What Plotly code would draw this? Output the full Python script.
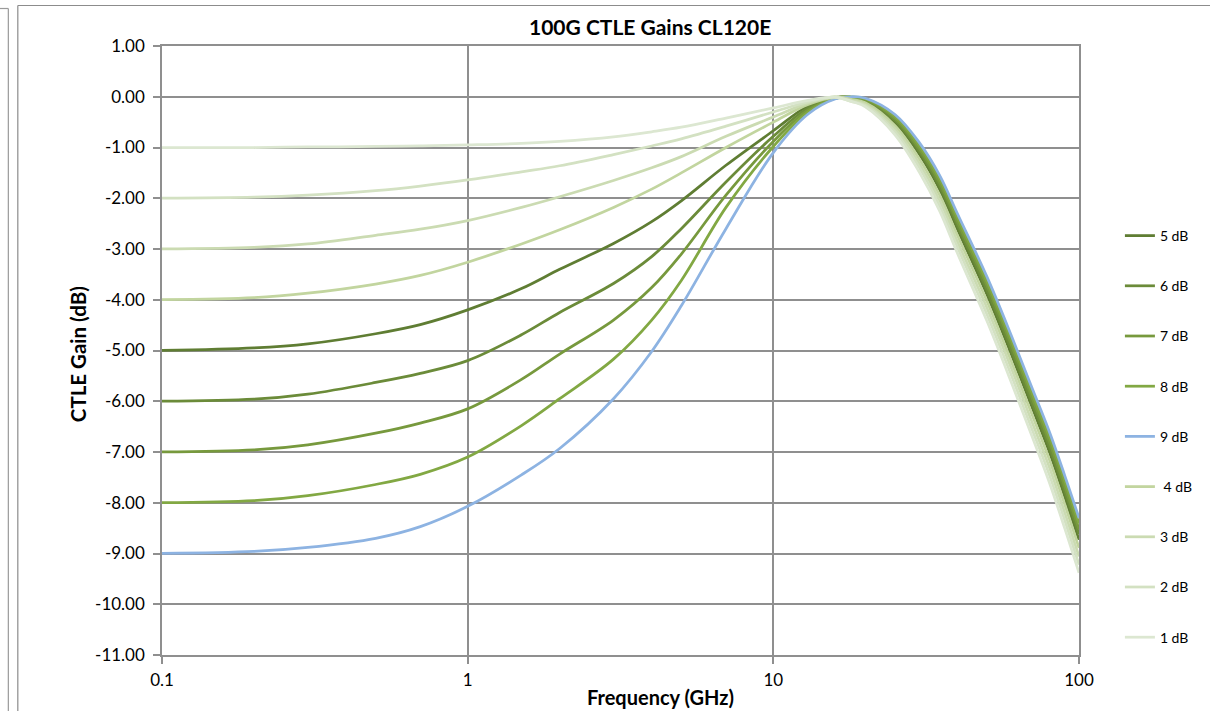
import plotly.graph_objects as go

# Frequency grid (GHz) at which each CTLE gain curve is sampled
FREQ_GHZ = [0.1, 0.2, 0.3, 0.5, 0.7, 1, 1.5, 2, 3, 4, 5, 7, 10, 13, 16, 18,
            20, 25, 30, 35, 40, 50, 60, 70, 80, 90, 100]

# CTLE gain (dB) per DC-gain setting
GAIN_5DB = [-5.00, -4.95, -4.87, -4.67, -4.49, -4.20, -3.78, -3.40, -2.89, -2.46, -2.05, -1.35, -0.67, -0.18,
            -0.01, -0.02, -0.09, -0.51, -1.13, -1.83, -2.61, -3.90, -5.07, -6.10, -7.00, -7.90, -8.73]
GAIN_6DB = [-6.00, -5.96, -5.86, -5.63, -5.45, -5.20, -4.69, -4.25, -3.68, -3.15, -2.60, -1.68, -0.78, -0.22,
            -0.02, -0.01, -0.07, -0.47, -1.07, -1.76, -2.53, -3.81, -4.98, -6.01, -6.90, -7.79, -8.62]
GAIN_7DB = [-7.00, -6.96, -6.86, -6.63, -6.43, -6.15, -5.57, -5.07, -4.40, -3.76, -3.10, -1.94, -0.88, -0.26,
            -0.03, -0.01, -0.06, -0.43, -1.02, -1.69, -2.46, -3.72, -4.88, -5.91, -6.80, -7.69, -8.52]
GAIN_8DB = [-8.00, -7.96, -7.86, -7.64, -7.44, -7.10, -6.48, -5.95, -5.17, -4.40, -3.62, -2.18, -0.98, -0.30,
            -0.03, 0.00, -0.04, -0.39, -0.96, -1.62, -2.38, -3.64, -4.79, -5.82, -6.70, -7.58, -8.41]
GAIN_9DB = [-9.00, -8.96, -8.88, -8.70, -8.47, -8.07, -7.45, -6.93, -5.95, -5.02, -4.12, -2.60, -1.10, -0.34,
            -0.04, 0.00, -0.03, -0.35, -0.90, -1.55, -2.30, -3.55, -4.70, -5.72, -6.60, -7.48, -8.30]
GAIN_4DB = [-4.00, -3.96, -3.87, -3.69, -3.52, -3.26, -2.90, -2.62, -2.18, -1.82, -1.50, -1.00, -0.50, -0.15,
            -0.01, -0.05, -0.12, -0.57, -1.22, -1.94, -2.73, -4.03, -5.21, -6.24, -7.15, -8.05, -8.89]
GAIN_3DB = [-3.00, -2.97, -2.90, -2.73, -2.61, -2.44, -2.18, -1.97, -1.65, -1.40, -1.18, -0.78, -0.40, -0.12,
            0.00, -0.07, -0.15, -0.63, -1.31, -2.04, -2.85, -4.16, -5.34, -6.39, -7.30, -8.21, -9.06]
GAIN_2DB = [-2.00, -1.98, -1.94, -1.85, -1.76, -1.64, -1.48, -1.36, -1.14, -0.97, -0.83, -0.58, -0.30, -0.10,
            -0.01, -0.09, -0.17, -0.69, -1.39, -2.15, -2.96, -4.29, -5.48, -6.53, -7.45, -8.36, -9.22]
GAIN_1DB = [-1.00, -1.00, -0.99, -0.98, -0.97, -0.95, -0.92, -0.88, -0.79, -0.69, -0.60, -0.42, -0.22, -0.07,
            -0.01, -0.09, -0.20, -0.75, -1.48, -2.25, -3.08, -4.42, -5.62, -6.67, -7.60, -8.52, -9.38]

SERIES_NAMES = ["5 dB", "6 dB", "7 dB", "8 dB", "9 dB", " 4 dB", "3 dB", "2 dB", "1 dB"]
SERIES_VALUES = [GAIN_5DB, GAIN_6DB, GAIN_7DB, GAIN_8DB, GAIN_9DB, GAIN_4DB, GAIN_3DB, GAIN_2DB, GAIN_1DB]
SERIES_COLORS = ["#5f7d33", "#6b8b39", "#77993d", "#82a843", "#8db3e2",
                 "#c2d59f", "#cbdbb2", "#d3e1c2", "#dce7d1"]

Y_TICKS = [1, 0, -1, -2, -3, -4, -5, -6, -7, -8, -9, -10, -11]
Y_TICK_TEXT = ["1.00", "0.00", "-1.00", "-2.00", "-3.00", "-4.00", "-5.00", "-6.00",
               "-7.00", "-8.00", "-9.00", "-10.00", "-11.00"]
X_TICKS = [0.1, 1, 10, 100]
X_TICK_TEXT = ["0.1", "1", "10", "100"]

W, H = 1210, 711
L, R, T, B = 162, 1081, 46, 655          # plot-area edges in pixels
PW, PH = R - L, B - T


def px(xp):
    return (xp - L) / PW


def py(yp):
    return (B - yp) / PH


GRID = "#8f8f8f"
FONT = "Lato"

fig = go.Figure()
for name, vals, color in zip(SERIES_NAMES, SERIES_VALUES, SERIES_COLORS):
    fig.add_trace(go.Scatter(
        x=FREQ_GHZ, y=vals, name=name, mode="lines", legendgroup=name,
        line=dict(color=color, width=2.75, shape="spline", smoothing=1.0),
    ))

axis_common = dict(
    showgrid=True, gridcolor=GRID, gridwidth=1.5,
    showline=True, linecolor=GRID, linewidth=1.5, mirror=True,
    ticks="outside", ticklen=7, tickcolor=GRID, tickwidth=1.5,
    zeroline=False, tickfont=dict(family=FONT, size=17, color="#000"),
)

fig.update_xaxes(type="log", range=[-1, 2], tickvals=X_TICKS, ticktext=X_TICK_TEXT,
                 ticklabelstandoff=2, **axis_common)
fig.update_yaxes(range=[-11, 1], tickvals=Y_TICKS, ticktext=Y_TICK_TEXT,
                 ticklabelstandoff=5, **axis_common)

fig.update_layout(
    width=W, height=H,
    margin=dict(l=L, r=W - R, t=T, b=H - B, pad=0),
    paper_bgcolor="white", plot_bgcolor="white",
    font=dict(family=FONT, color="#000"),
    showlegend=True,
    legend=dict(x=px(1122), y=py(220), xanchor="left", yanchor="top",
                font=dict(family=FONT, size=14, color="#000"),
                tracegroupgap=29, bgcolor="rgba(0,0,0,0)"),
    annotations=[
        dict(text="<b>100G CTLE Gains CL120E</b>", x=px(651), y=py(26), xref="paper", yref="paper",
             showarrow=False, xanchor="center", yanchor="middle",
             font=dict(family=FONT, size=21, color="#000")),
        dict(text="<b>Frequency (GHz)</b>", x=px(662), y=py(697), xref="paper", yref="paper",
             showarrow=False, xanchor="center", yanchor="middle",
             font=dict(family=FONT, size=20, color="#000")),
        dict(text="<b>CTLE Gain (dB)</b>", x=px(78), y=py(354), xref="paper", yref="paper",
             showarrow=False, xanchor="center", yanchor="middle", textangle=-90,
             font=dict(family=FONT, size=20.5, color="#000")),
    ],
    shapes=[
        # outer chart border
        dict(type="line", xref="paper", yref="paper", x0=px(17.5), x1=px(17.5), y0=py(5.5), y1=py(720),
             line=dict(color="#8c8c8c", width=1.2)),
        dict(type="line", xref="paper", yref="paper", x0=px(17.5), x1=px(1220), y0=py(5.5), y1=py(5.5),
             line=dict(color="#8c8c8c", width=1.2)),
        # neighbouring panel edge at far left
        dict(type="line", xref="paper", yref="paper", x0=px(8), x1=px(8), y0=py(8.5), y1=py(720),
             line=dict(color="#9a9a9a", width=1.2)),
        dict(type="line", xref="paper", yref="paper", x0=px(-5), x1=px(8), y0=py(8.5), y1=py(8.5),
             line=dict(color="#9a9a9a", width=1.2)),
    ],
)

fig.write_html("out.html")
